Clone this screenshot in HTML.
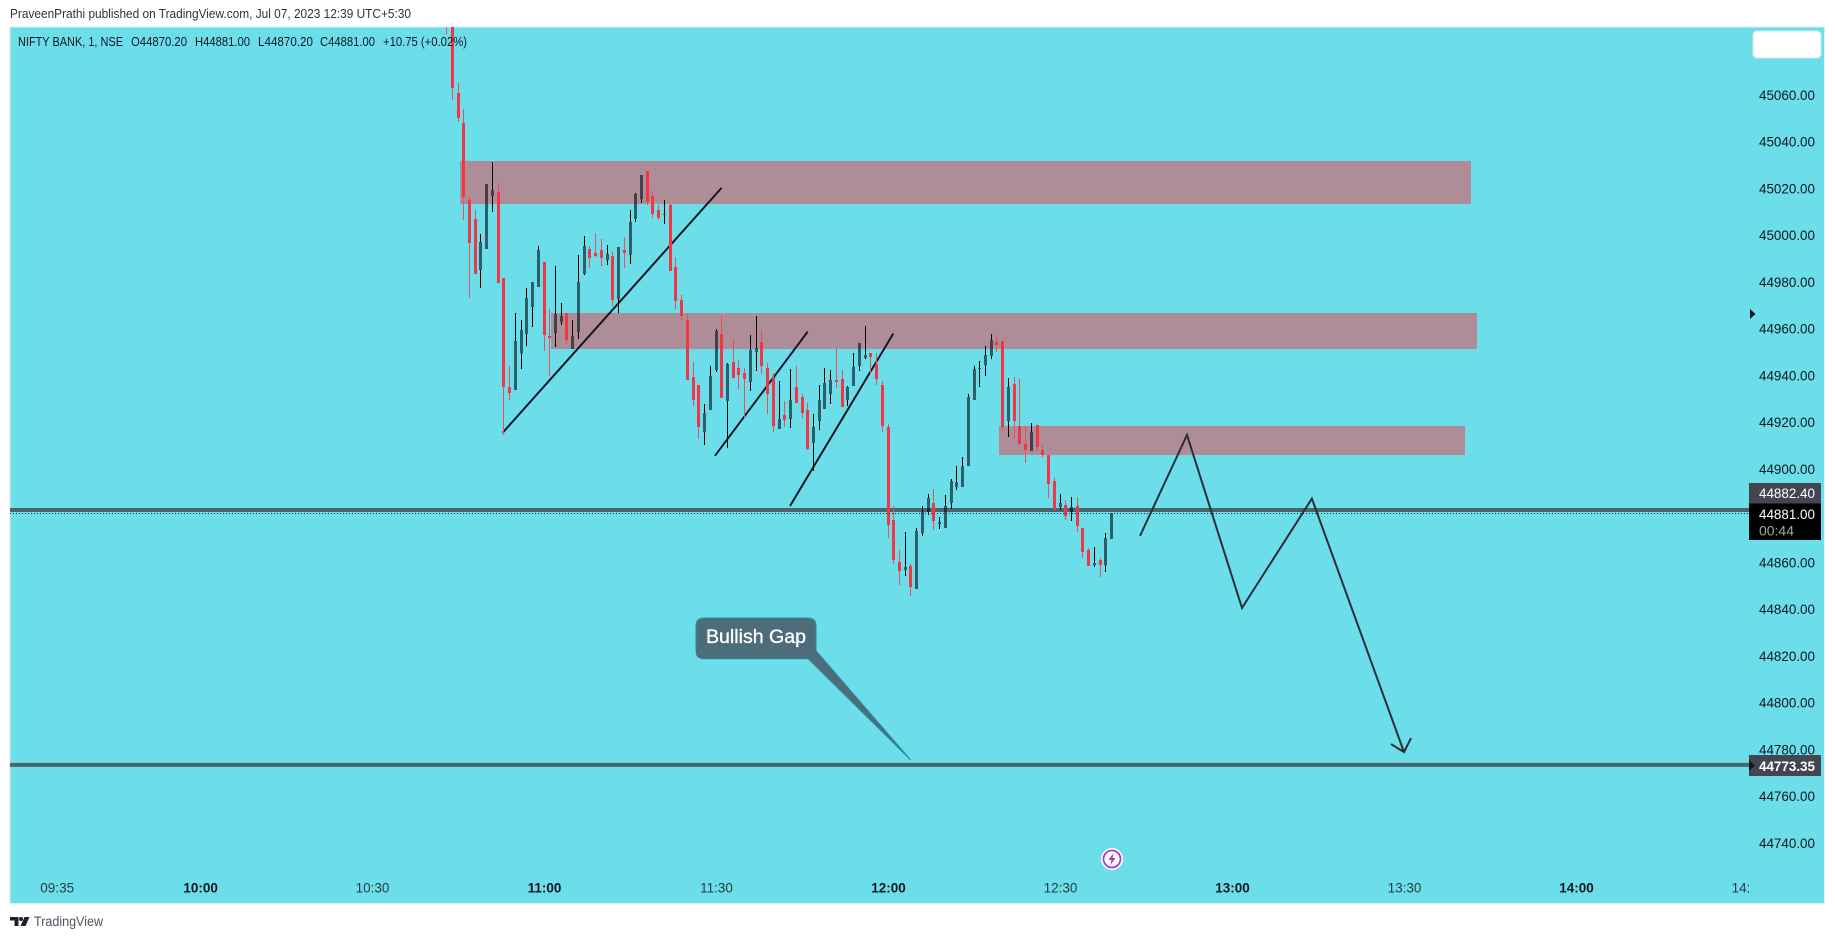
<!DOCTYPE html>
<html lang="en">
<head>
<meta charset="utf-8">
<title>NIFTY BANK chart</title>
<style>
html,body{margin:0;padding:0;background:#fff;width:1835px;height:939px;overflow:hidden}
svg{display:block}
text{font-family:"Liberation Sans",sans-serif}
</style>
</head>
<body>
<svg id="chart" xmlns="http://www.w3.org/2000/svg" width="1835" height="939" viewBox="0 0 1835 939">
  <defs>
    <clipPath id="plot-clip"><rect x="10" y="27" width="1814" height="876"/></clipPath>
    <clipPath id="time-clip"><rect x="10" y="870" width="1739" height="33"/></clipPath>
  </defs>
  <rect x="0" y="0" width="1835" height="939" fill="#ffffff"/>
  <text x="10" y="18" font-size="12.800" fill="#2f323b" textLength="401" lengthAdjust="spacingAndGlyphs">PraveenPrathi published on TradingView.com, Jul 07, 2023 12:39 UTC+5:30</text>
  <rect x="10" y="27" width="1814.5" height="876.5" fill="#6bdeea" stroke="#d8eef3" stroke-width="1"/>

  <g id="drawings-layer" clip-path="url(#plot-clip)"></g>
  <g id="candles-layer" clip-path="url(#plot-clip)"></g>
  <g id="price-axis"></g>
  <g id="time-axis" clip-path="url(#time-clip)"></g>

  <g font-size="12.800" fill="#131722">
    <text x="18" y="46" textLength="105" lengthAdjust="spacingAndGlyphs">NIFTY BANK, 1, NSE</text>
    <text x="131" y="46" textLength="56" lengthAdjust="spacingAndGlyphs">O44870.20</text>
    <text x="195" y="46" textLength="55" lengthAdjust="spacingAndGlyphs">H44881.00</text>
    <text x="258" y="46" textLength="55" lengthAdjust="spacingAndGlyphs">L44870.20</text>
    <text x="320" y="46" textLength="55" lengthAdjust="spacingAndGlyphs">C44881.00</text>
    <text x="383" y="46" textLength="84" lengthAdjust="spacingAndGlyphs">+10.75 (+0.02%)</text>
  </g>

  <rect x="1753" y="31" width="68" height="27" rx="4" fill="#ffffff" stroke="#cfeaf0" stroke-width="1"/>

  <polygon points="1750,309 1755.500,314 1750,319" fill="#131722"/>

  <g>
    <rect x="1749" y="483" width="72" height="20.500" fill="#434651"/>
    <text x="1759" y="498" font-size="14" fill="#ffffff" textLength="56" lengthAdjust="spacingAndGlyphs">44882.40</text>
    <rect x="1749" y="503.500" width="72" height="36.500" fill="#000000"/>
    <text x="1759" y="519" font-size="14" fill="#ffffff" textLength="56" lengthAdjust="spacingAndGlyphs">44881.00</text>
    <text x="1759" y="535.500" font-size="14" fill="#a6a6a6" textLength="35" lengthAdjust="spacingAndGlyphs">00:44</text>
    <rect x="1749" y="755" width="72" height="21" fill="#434651"/>
    <polygon points="1749,760 1755,765.500 1749,771" fill="#131722"/>
    <text x="1759" y="771" font-size="14" font-weight="700" fill="#ffffff" textLength="56" lengthAdjust="spacingAndGlyphs">44773.35</text>
  </g>

  <g>
    <circle cx="1112" cy="859" r="10" fill="#ffffff" stroke="#ffffff" stroke-width="2"/>
    <circle cx="1112" cy="859" r="8.500" fill="#ffffff" stroke="#a935c9" stroke-width="1.800"/>
    <polygon points="1113.500,853 1108.500,860 1111.500,860 1110.500,865 1115.500,858 1112.500,858" fill="#a935c9"/>
  </g>

  <g>
    <polygon points="10,917 18.500,917 18.500,926 14.500,926 14.500,920.500 10,920.500" fill="#1e222d"/>
    <circle cx="21" cy="919" r="2" fill="#1e222d"/>
    <polygon points="24.500,917 29.500,917 25.500,926 20.500,926" fill="#1e222d"/>
    <text x="34" y="926" font-size="13.500" fill="#50535e" textLength="69" lengthAdjust="spacingAndGlyphs">TradingView</text>
  </g>
</svg>

<script>
/* ---- chart data: one bar per minute ---- */
const firstBarMinute = 43; /* minutes after 10:00 of the first bar */
const opens = [
45095,45094.2,45060.9,45048.0,45015.1,45006.9,44985.1,44994.1,45016.8,45018.5,
44981.7,44935.0,44933.8,44949.6,44957.7,44969.3,44977.8,44988.5,44956.9,44958.2,
44962.9,44966.7,44951.3,44958.6,44983.4,44994.1,44992.4,44993.7,44989.4,44991.1,
44972.7,44993.7,44991.5,45006.9,45015.5,45027.5,45016.8,45010.8,45008.7,45012.9,
44986.4,44972.3,44963.7,44939.3,44935.9,44915.8,44925.2,44942.3,44957.7,44929.1,
44945.7,44943.2,44941.0,44937.2,44950.0,44954.3,44943.2,44938.9,44917.1,44923.1,
44921.4,44935.0,44930.8,44925.2,44911.1,44920.5,44925.6,44932.1,44938.0,44938.5,
44929.5,44935.5,44944.0,44947.5,44949.6,44944.9,44935.9,44917.9,44878.1,44860.2,
44856.7,44858.4,44848.6,44872.6,44881.6,44885.4,44876.4,44874.7,44885.4,44892.3,
44892.3,44901.2,44929.5,44942.8,44944.5,44948.3,44954.3,44954.7,44920.5,44936.3,
44918.4,44910.6,44907.7,44918.8,44908.1,44905.9,44894.8,44883.7,44884.6,44881.6,
44884.1,44874.7,44865.3,44858.9,44861.0,44858.9,44870.0
];
const highs = [
45098,45095.5,45065.1,45054.0,45016.8,45010.8,45000.5,45021.9,45031.3,45022.3,
44981.7,44944.0,44966.7,44963.7,44977.4,44980.0,44995.4,44988.5,44968.4,44986.8,
44971.0,44966.7,44963.7,44991.5,44999.7,44995.4,45001.0,44998.4,44995.8,44993.3,
44995.0,44999.2,45010.8,45018.1,45025.8,45027.5,45018.9,45012.9,45015.1,45013.8,
44990.7,44974.4,44966.7,44945.7,44935.9,44927.8,44944.0,44959.9,44965.9,44945.3,
44955.6,44946.6,44943.2,44957.3,44965.4,44959.4,44945.3,44941.0,44937.6,44929.1,
44942.8,44944.0,44932.1,44928.2,44923.5,44935.9,44943.2,44942.3,44951.7,44942.3,
44935.5,44949.6,44953.9,44961.2,44949.6,44949.6,44937.6,44919.2,44884.1,44865.3,
44873.0,44859.3,44874.7,44884.1,44889.3,44891.4,44879.4,44888.8,44895.7,44901.2,
44905.1,44932.1,44944.0,44946.2,44952.6,44957.7,44957.3,44954.7,44938.9,44939.3,
44938.5,44918.4,44919.6,44918.8,44910.2,44905.9,44896.1,44889.3,44886.7,44888.0,
44888.0,44874.7,44866.1,44866.6,44861.9,44872.6,44881.1
];
const lows = [
45086.1,45057.9,45048.5,45006.5,44973.1,44983.4,44977.4,44994.1,45009.9,44979.6,
44914.5,44929.5,44933.8,44942.8,44952.6,44960.7,44977.8,44950.5,44939.8,44952.2,
44961.6,44953.5,44951.3,44955.6,44983.0,44986.0,44990.7,44986.8,44987.3,44969.7,
44966.7,44986.0,44987.7,45005.7,45013.8,45012.9,45007.4,45006.5,45004.8,44984.7,
44968.4,44963.7,44938.0,44926.9,44912.8,44910.2,44925.2,44941.5,44930.3,44908.9,
44938.9,44934.2,44921.8,44933.3,44941.9,44940.6,44923.5,44915.8,44917.1,44917.9,
44917.5,44928.2,44921.8,44908.1,44899.1,44916.6,44925.6,44927.8,44934.6,44926.5,
44926.9,44935.5,44941.9,44947.0,44940.6,44935.9,44915.8,44870.4,44859.3,44850.3,
44854.2,44845.6,44848.6,44871.3,44880.3,44873.9,44874.3,44874.7,44882.8,44891.0,
44892.3,44901.2,44929.5,44935.0,44939.8,44947.0,44950.0,44916.2,44913.6,44912.8,
44910.2,44902.5,44907.7,44907.7,44905.1,44887.5,44882.4,44882.4,44878.1,44877.7,
44873.0,44861.9,44858.4,44858.0,44853.7,44855.9,44870.0
];
const closes = [
45090,45063.0,45050.2,45016.4,44996.7,44983.4,44997.1,45021.9,45019.4,44979.6,
44935.0,44932.5,44954.7,44959.4,44973.1,44980.0,44993.7,44957.3,44956.0,44966.3,
44965.4,44955.2,44956.9,44980.0,44995.4,44990.3,44991.1,44990.3,44992.0,44972.3,
44995.0,44992.4,45005.7,45017.6,45025.8,45014.2,45009.1,45007.4,45009.1,44984.7,
44971.8,44965.4,44938.0,44929.5,44917.9,44923.9,44939.8,44959.0,44930.3,44944.9,
44938.9,44940.2,44938.5,44950.9,44951.7,44944.0,44932.1,44918.4,44921.4,44920.9,
44929.5,44928.2,44923.9,44908.5,44917.9,44929.5,44936.8,44938.0,44937.2,44926.5,
44935.0,44943.6,44953.9,44948.7,44947.9,44938.5,44918.4,44876.0,44861.0,44856.3,
44858.0,44849.5,44873.4,44881.6,44887.5,44877.7,44877.3,44884.1,44894.8,44894.4,
44901.2,44930.8,44942.8,44943.2,44948.7,44955.2,44953.0,44917.9,44935.0,44920.5,
44910.6,44908.1,44915.8,44909.4,44905.9,44893.5,44882.8,44885.4,44879.8,44883.7,
44875.6,44864.4,44858.4,44859.7,44858.9,44870.4,44881.0
];

/* axis tick labels */
const priceTicks = [45060,45040,45020,45000,44980,44960,44940,44920,44900,44860,44840,44820,44800,44780,44760,44740];
const timeTickMinutes = [-25,0,30,60,90,120,150,180,210,240,270];
const timeTickLabels = ["09:35","10:00","10:30","11:00","11:30","12:00","12:30","13:00","13:30","14:00","14:30"];
const timeTickMajor = [0,1,0,1,0,1,0,1,0,1,0];

/* drawings, in chart coordinates (minutes after 10:00, price) */
const zoneStarts = [45.26,61.13,139.27];
const zoneEnds = [221.55,222.65,220.56];
const zoneTops = [45031.7,44966.7,44918.4];
const zoneBottoms = [45013.4,44951.3,44905.9];
const trendStartMinutes = [52.7,89.73,102.82];
const trendStartPrices = [44915.5,44905.6,44884.1];
const trendEndMinutes = [90.9,105.9,120.83];
const trendEndPrices = [45020.3,44958.7,44957.9];
const forecastMinutes = [163.87,172.07,181.66,193.86,209.92];
const forecastPrices = [44871.3,44914.5,44840.5,44887.3,44778.8];
const levelPrices = [44882.4,44773.35];
const lastPrice = 44881.0;
const calloutTipMinute = 123.87;
const calloutTipPrice = 44775.4;

/* ---- axis functions ---- */
function xScale(minute){ return 200.55 + minute * 5.733; }
function yScale(price){ return 95 + (45060 - price) * 2.33672; }

const NS = "http://www.w3.org/2000/svg";
function make(parent, tag, attrs){
  const el = document.createElementNS(NS, tag);
  for (const k in attrs) el.setAttribute(k, attrs[k]);
  parent.appendChild(el);
  return el;
}

const drawings = document.getElementById("drawings-layer");
const candlesLayer = document.getElementById("candles-layer");
const priceAxis = document.getElementById("price-axis");
const timeAxis = document.getElementById("time-axis");

/* supply / demand zones */
zoneStarts.forEach(function(start, i){
  const x0 = Math.round(xScale(start));
  const x1 = Math.round(xScale(zoneEnds[i]));
  const y0 = Math.round(yScale(zoneTops[i]));
  const y1 = Math.round(yScale(zoneBottoms[i]));
  const zone = make(drawings, "rect", {x:x0, y:y0, width:x1-x0, height:y1-y0, fill:"#ae8c98"});
  
  
});

/* horizontal levels */
levelPrices.forEach(function(price){
  const yy = yScale(price);
  const level = make(drawings, "line", {x1:10, x2:1749, y1:yy, y2:yy, stroke:"#4c626c", "stroke-width":4});
  
  
});

/* trend lines */
trendStartMinutes.forEach(function(m, i){
  const trend = make(drawings, "line", {
    x1:xScale(m), y1:yScale(trendStartPrices[i]),
    x2:xScale(trendEndMinutes[i]), y2:yScale(trendEndPrices[i]),
    stroke:"#131722", "stroke-width":2
  });
  
  
});

/* forecast path with arrow */
const forecastPoints = forecastMinutes.map(function(m, i){
  return xScale(m).toFixed(1) + "," + yScale(forecastPrices[i]).toFixed(1);
}).join(" ");
const forecast = make(drawings, "polyline", {points:forecastPoints, fill:"none", stroke:"#2a2e39", "stroke-width":2});


const tipX = xScale(forecastMinutes[forecastMinutes.length-1]);
const tipY = yScale(forecastPrices[forecastPrices.length-1]);
const arrowHead = make(drawings, "polyline", {
  points:(tipX-13)+","+(tipY-8)+" "+tipX+","+tipY+" "+(tipX+7)+","+(tipY-14),
  fill:"none", stroke:"#2a2e39", "stroke-width":2
});



/* candles */
opens.forEach(function(open, i){
  const close = closes[i];
  const minute = firstBarMinute + i;
  const left = Math.floor(xScale(minute) - 1.5);
  const up = close >= open;
  const yHigh = Math.round(yScale(highs[i]));
  const yLow = Math.round(yScale(lows[i]));
  const yTop = Math.round(yScale(Math.max(open, close)));
  const yBot = Math.max(yTop + 1, Math.round(yScale(Math.min(open, close))));
  const wickColor = up ? "#000000" : "#e8505f";
  const bodyColor = up ? "rgba(0,10,20,0.6)" : "#f23645";
  const g = make(candlesLayer, "g", {});
  
  
  if (yHigh < yTop) {
    make(g, "rect", {x:left+1, y:yHigh, width:1, height:yTop-yHigh, fill:wickColor});
  }
  if (yLow > yBot) {
    make(g, "rect", {x:left+1, y:yBot, width:1, height:yLow-yBot, fill:wickColor});
  }
  make(g, "rect", {x:left, y:yTop, width:3, height:yBot-yTop, fill:bodyColor});
});

/* dotted last-price line */
const lastY = Math.round(yScale(lastPrice)) + 0.5;
const lastLine = make(candlesLayer, "line", {x1:10, x2:1749, y1:lastY, y2:lastY, stroke:"#16323a", "stroke-width":1, "stroke-dasharray":"1 2"});



/* callout */
const cx = xScale(calloutTipMinute);
const cy = yScale(calloutTipPrice);
const calloutPath = "M704 618 H808 Q816 618 816 626 V650.7 L" + cx.toFixed(1) + " " + cy.toFixed(1) +
  " L808 658.7 H704 Q696 658.7 696 650.7 V626 Q696 618 704 618 Z";
const callout = make(drawings, "path", {d:calloutPath, fill:"#4e6d7b", stroke:"#2a8a9c", "stroke-width":1});


const calloutText = make(drawings, "text", {x:706, y:643, "font-size":19.5, fill:"#ffffff", stroke:"#ffffff", "stroke-width":0.35, textLength:100, lengthAdjust:"spacingAndGlyphs"});
calloutText.textContent = "Bullish Gap";



/* price axis */
priceTicks.forEach(function(tick){
  const label = make(priceAxis, "text", {x:1759, y:(yScale(tick)+5).toFixed(1), "font-size":14, fill:"#131722", textLength:56, lengthAdjust:"spacingAndGlyphs"});
  label.textContent = tick.toFixed(2);
  
  
});

/* time axis */
timeTickMinutes.forEach(function(m, i){
  const major = timeTickMajor[i] === 1;
  const label = make(timeAxis, "text", {
    x:xScale(m).toFixed(1), y:892.5, "font-size":13.5, "text-anchor":"middle",
    fill: major ? "#131722" : "#2a3a40", "font-weight": major ? 700 : 400
  });
  label.textContent = timeTickLabels[i];
  
  
});
</script>
</body>
</html>
